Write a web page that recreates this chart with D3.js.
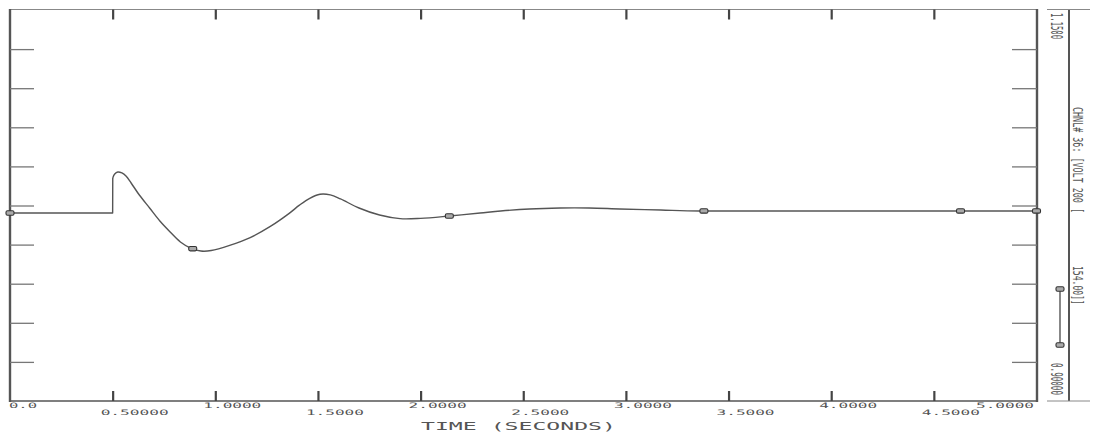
<!DOCTYPE html>
<html>
<head>
<meta charset="utf-8">
<script src="https://cdn.jsdelivr.net/npm/d3@7"></script>
<style>
  html, body { margin: 0; padding: 0; background: #fff; }
  svg { display: block; }
  text { font-family: "DejaVu Sans Mono", "Liberation Mono", monospace; fill: #555; }
</style>
</head>
<body>
<svg id="chart" width="1096" height="432"></svg>
<script>
// Bus voltage response (channel 36), time in seconds
const times = [0, 0.5, 0.5005, 0.51, 0.525, 0.545, 0.565, 0.59, 0.63, 0.68, 0.73, 0.78, 0.83, 0.88, 0.93, 0.98,
  1.07, 1.17, 1.27, 1.36, 1.41, 1.46, 1.51, 1.56, 1.61, 1.70, 1.80, 1.90, 2.00, 2.14, 2.29, 2.39, 2.53,
  2.68, 2.82, 2.97, 3.17, 3.36, 3.85, 4.40, 5.00];
const volts = [1.0202, 1.0202, 1.0426, 1.0451, 1.0464, 1.0458, 1.0439, 1.0394, 1.0317, 1.0234, 1.0151, 1.0081,
  1.0017, 0.9978, 0.9959, 0.9962, 0.9995, 1.0045, 1.0118, 1.0200, 1.0252, 1.0296, 1.0322, 1.0318, 1.0292,
  1.0234, 1.0189, 1.0166, 1.0168, 1.0183, 1.0202, 1.0215, 1.0228, 1.0234, 1.0234, 1.0228, 1.0221, 1.0215,
  1.0215, 1.0215, 1.0215];

// the fault is applied at this time: trace is flat before it, then steps
const stepTime = 0.5;

// times at which the plot symbol is stamped on the trace
const symbolTimes = [0, 0.89, 2.14, 3.38, 4.63, 5.0];

// axis scale and labels
const xMin = 0, xMax = 5;
const yMin = 0.9, yMax = 1.15;
const xTickValues = [0.5, 1.0, 1.5, 2.0, 2.5, 3.0, 3.5, 4.0, 4.5];
const xTickLabels = ["0.0", "0.50000", "1.0000", "1.5000", "2.0000", "2.5000", "3.0000", "3.5000", "4.0000", "4.5000", "5.0000"];
const xLabelValues = [0, 0.5, 1.0, 1.5, 2.0, 2.5, 3.0, 3.5, 4.0, 4.5, 5.0];
const yTickValues = [0.925, 0.95, 0.975, 1.0, 1.025, 1.05, 1.075, 1.1, 1.125];
const xTitle = "TIME  (SECONDS)";
const scaleTop = "1.1500";
const scaleBottom = "0.90000";
const channelLabel = "CHNL# 36: [VOLT  200 [";
const channelBase = "154.00]]";

const svg = d3.select("#chart");
const L = 10, R = 1037, T = 10, B = 401;
const x = d3.scaleLinear().domain([xMin, xMax]).range([L, R - 0.5]);
const y = d3.scaleLinear().domain([yMin, yMax]).range([B, T]);

const axisCol = "#555";
const data = times.map((t, i) => ({ t, v: volts[i] }));

// frame: thin top edge, heavy left/right edges, bottom edge
svg.append("line").attr("x1", L).attr("x2", R).attr("y1", T - 0.5).attr("y2", T - 0.5)
  .attr("stroke", "#888").attr("stroke-width", 1);
svg.append("line").attr("x1", L).attr("x2", R).attr("y1", B).attr("y2", B)
  .attr("stroke", axisCol).attr("stroke-width", 1.6);
svg.append("line").attr("x1", L).attr("x2", L).attr("y1", T - 1).attr("y2", B + 1)
  .attr("stroke", axisCol).attr("stroke-width", 2.4);
svg.append("line").attr("x1", R).attr("x2", R).attr("y1", T - 1).attr("y2", B + 1)
  .attr("stroke", axisCol).attr("stroke-width", 2.4);

// time ticks, top and bottom
const topAxis = d3.axisBottom(x).tickValues(xTickValues).tickSize(10).tickFormat("");
const gTop = svg.append("g").attr("transform", `translate(0,${T - 0.5})`).call(topAxis);
const botAxis = d3.axisTop(x).tickValues(xTickValues).tickSize(10).tickFormat("");
const gBot = svg.append("g").attr("transform", `translate(0,${B})`).call(botAxis);
[gTop, gBot].forEach(g => {
  g.select(".domain").remove();
  g.selectAll(".tick line").attr("stroke", "#444").attr("stroke-width", 2.2);
});

// value ticks, left and right
const leftAxis = d3.axisRight(y).tickValues(yTickValues).tickSize(24).tickFormat("");
const gLeft = svg.append("g").attr("transform", `translate(${L},0)`).call(leftAxis);
const rightAxis = d3.axisLeft(y).tickValues(yTickValues).tickSize(25).tickFormat("");
const gRight = svg.append("g").attr("transform", `translate(${R},0)`).call(rightAxis);
[gLeft, gRight].forEach(g => {
  g.select(".domain").remove();
  g.selectAll(".tick line").attr("stroke", "#777").attr("stroke-width", 1.3);
});

// time labels, staggered in two rows
xLabelValues.forEach((v, i) => {
  const lab = xTickLabels[i];
  const w = lab.length * 10 - 2;
  let sx = x(v) - 12;
  if (sx < L) sx = L - 1;
  if (sx + w > R - 3) sx = R - 3 - w;
  const upper = Math.abs(v - Math.round(v)) < 1e-9;
  svg.append("text")
    .attr("x", sx).attr("y", upper ? 408 : 414.5)
    .attr("font-size", 7.5)
    .attr("textLength", w).attr("lengthAdjust", "spacingAndGlyphs")
    .text(lab);
});

svg.append("text")
  .attr("x", 421).attr("y", 430)
  .attr("font-size", 10.5)
  .attr("textLength", 195).attr("lengthAdjust", "spacingAndGlyphs")
  .text(xTitle);

// trace: straight pre-fault segment and step, smooth response afterwards
const stepIdx = data.findIndex(d => d.t > stepTime);
const pre = data.slice(0, stepIdx + 1);
const post = data.slice(stepIdx);
const lineLinear = d3.line().x(d => x(d.t)).y(d => y(d.v));
const lineSmooth = d3.line().x(d => x(d.t)).y(d => y(d.v)).curve(d3.curveCatmullRom.alpha(0.5));
[[pre, lineLinear], [post, lineSmooth]].forEach(([seg, gen]) => {
  svg.append("path").datum(seg)
    .attr("d", gen)
    .attr("fill", "none").attr("stroke", "#555").attr("stroke-width", 1.4)
    .attr("stroke-linejoin", "round");
});

// plot symbols along the trace
const bis = d3.bisector(d => d.t).left;
function valueAt(t) {
  const i = Math.min(Math.max(bis(data, t), 1), data.length - 1);
  const a = data[i - 1], b = data[i];
  return a.v + (b.v - a.v) * (t - a.t) / (b.t - a.t);
}
function symbol(cx, cy) {
  svg.append("rect")
    .attr("x", cx - 4).attr("y", cy - 2.2).attr("width", 8).attr("height", 4.4)
    .attr("rx", 1.5)
    .attr("fill", "#aaa").attr("stroke", "#333").attr("stroke-width", 1.1);
}
symbolTimes.forEach(t => symbol(x(t), y(valueAt(t))));

// side panel: scale limits, legend and channel identification
const PX = 1069;
svg.append("line").attr("x1", PX).attr("x2", PX).attr("y1", T - 1).attr("y2", B)
  .attr("stroke", axisCol).attr("stroke-width", 2);
svg.append("line").attr("x1", 1047).attr("x2", 1090).attr("y1", T - 0.5).attr("y2", T - 0.5)
  .attr("stroke", "#888").attr("stroke-width", 1);
svg.append("line").attr("x1", 1047).attr("x2", 1090).attr("y1", B).attr("y2", B)
  .attr("stroke", "#888").attr("stroke-width", 1);

function vtext(str, bx, sy, len, fs) {
  svg.append("text")
    .attr("transform", `translate(${bx},${sy}) rotate(90)`)
    .attr("font-size", fs)
    .attr("textLength", len).attr("lengthAdjust", "spacingAndGlyphs")
    .text(str);
}
vtext(scaleTop, 1051, 13, 26, 15);
vtext(scaleBottom, 1051, 363, 32, 15);
vtext(channelLabel, 1072.5, 107, 106, 14);
vtext(channelBase, 1072.5, 266, 39, 14);

// legend: line segment with symbols at both ends
svg.append("line").attr("x1", 1060).attr("x2", 1060).attr("y1", 289).attr("y2", 345)
  .attr("stroke", "#555").attr("stroke-width", 1.4);
symbol(1060, 289);
symbol(1060, 345);
</script>
</body>
</html>
